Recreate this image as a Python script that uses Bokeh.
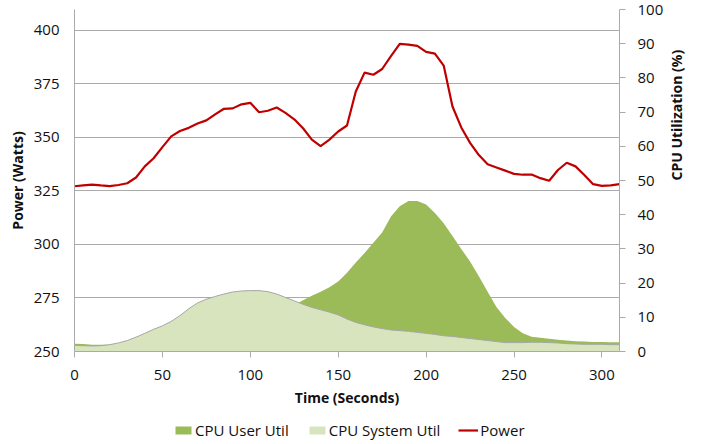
import math
from bokeh.plotting import figure
from bokeh.layouts import column
from bokeh.models import (Range1d, LinearAxis, FixedTicker, Legend, LegendItem,
                          ColumnDataSource)
from bokeh.embed import file_html
from bokeh.resources import INLINE

# ---------------- data ----------------
time_s = [0, 5, 10, 15, 20, 25, 30, 35, 40, 45, 50, 55, 60, 65, 70, 75, 80, 85, 90, 95,
          100, 105, 110, 115, 120, 125, 130, 135, 140, 145, 150, 155, 160, 165, 170, 175,
          180, 185, 190, 195, 200, 205, 210, 215, 220, 225, 230, 235, 240, 245, 250, 255,
          260, 265, 270, 275, 280, 285, 290, 295, 300, 305, 310]

power_w = [327.2, 327.6, 328.0, 327.6, 327.3, 327.8, 328.6, 331.3, 336.5, 340.3,
           345.5, 350.5, 353.0, 354.5, 356.5, 358.0, 360.8, 363.4, 363.6, 365.5,
           366.2, 361.8, 362.5, 364.0, 361.5, 358.5, 354.3, 349.0, 346.0, 349.0,
           352.8, 355.6, 371.5, 380.3, 379.3, 382.0, 388.0, 393.7, 393.4, 392.8,
           390.0, 389.2, 383.6, 364.5, 354.7, 347.5, 341.8, 337.5, 336.0, 334.5,
           333.0, 332.6, 332.7, 331.0, 329.8, 334.8, 338.2, 336.5, 332.5, 328.2,
           327.4, 327.6, 328.2]

cpu_user = [2.3, 2.2, 2.0, 2.0, 2.0, 2.2, 2.5, 2.8, 3.2, 3.6,
            4.0, 4.5, 5.0, 5.5, 6.0, 6.5, 7.0, 7.5, 8.0, 8.5,
            9.0, 9.5, 10.0, 11.0, 12.0, 13.5, 15.0, 16.3, 17.5, 18.8,
            20.5, 23.0, 26.0, 28.8, 31.8, 34.8, 39.5, 42.5, 44.0, 44.0,
            43.0, 40.5, 37.5, 33.8, 30.0, 26.3, 22.0, 17.5, 13.0, 9.8,
            7.2, 5.3, 4.3, 4.0, 3.7, 3.4, 3.2, 3.0, 2.9, 2.8,
            2.8, 2.7, 2.7]

cpu_system = [1.8, 1.7, 1.6, 1.7, 2.0, 2.5, 3.2, 4.2, 5.3, 6.5,
              7.5, 8.8, 10.5, 12.5, 14.2, 15.3, 16.1, 16.8, 17.4, 17.7,
              17.8, 17.8, 17.5, 16.8, 15.8, 14.8, 13.8, 12.9, 12.2, 11.5,
              10.7, 9.5, 8.5, 7.8, 7.2, 6.7, 6.3, 6.1, 5.9, 5.6,
              5.3, 5.0, 4.6, 4.4, 4.1, 3.8, 3.5, 3.2, 2.9, 2.6,
              2.6, 2.6, 2.7, 2.7, 2.6, 2.5, 2.3, 2.2, 2.1, 2.1,
              2.1, 2.0, 2.0]

series_names = ["CPU User Util", "CPU System Util", "Power"]
power_ticks = [250, 275, 300, 325, 350, 375, 400]
cpu_ticks = [0, 10, 20, 30, 40, 50, 60, 70, 80, 90, 100]
time_ticks = [0, 50, 100, 150, 200, 250, 300]

# ---------------- styling ----------------
FONT = "Open Sans"
GRID = "#aaaaaa"
TXT = "#111111"
C_USER = "#9BBB59"
C_SYS = "#D7E4BD"
C_POW = "#C00000"

src = ColumnDataSource(dict(t=time_s, p=power_w, u=cpu_user, s=cpu_system,
                            z=[0] * len(time_s)))

p = figure(width=701, height=415, output_backend="svg", toolbar_location=None,
           x_range=Range1d(0, 310), y_range=Range1d(250, 409.8),
           min_border_left=74, min_border_right=82, min_border_top=9,
           min_border_bottom=64)
p.extra_y_ranges = {"cpu": Range1d(0, 100)}
p.outline_line_color = None
p.background_fill_color = "white"
p.border_fill_color = "white"

# areas (user behind, system in front)
p.varea(x="t", y1="z", y2="u", source=src, y_range_name="cpu", fill_color=C_USER)
p.varea(x="t", y1="z", y2="s", source=src, y_range_name="cpu", fill_color=C_SYS)
p.line(x="t", y="s", source=src, y_range_name="cpu", line_color="#a6a6a6",
       line_width=1)
p.line(x="t", y="p", source=src, line_color=C_POW, line_width=2.2)

# grid
p.xgrid.grid_line_color = None
p.ygrid.ticker = FixedTicker(ticks=power_ticks)
p.ygrid.grid_line_color = GRID
p.ygrid.grid_line_width = 1

def style_axis(ax):
    ax.axis_line_color = GRID
    ax.axis_line_width = 1
    ax.major_tick_line_color = GRID
    ax.minor_tick_line_color = None
    ax.major_label_text_font = FONT
    ax.major_label_text_font_size = "15px"
    ax.major_label_text_color = TXT
    ax.axis_label_text_font = FONT
    ax.axis_label_text_font_size = "14px"
    ax.axis_label_text_font_style = "bold"
    ax.axis_label_text_color = TXT

# x axis
xa = p.xaxis[0]
style_axis(xa)
xa.ticker = FixedTicker(ticks=time_ticks)
xa.major_tick_out = 6
xa.major_tick_in = 0
xa.major_label_standoff = 12
xa.axis_label = "Time (Seconds)"
xa.axis_label_standoff = 5

# left axis
ya = p.yaxis[0]
style_axis(ya)
ya.ticker = FixedTicker(ticks=power_ticks)
ya.major_tick_out = 0
ya.major_tick_in = 0
ya.major_label_standoff = 15
ya.axis_label = "Power (Watts)"
ya.axis_label_standoff = 4

# right axis
ra = LinearAxis(y_range_name="cpu")
style_axis(ra)
ra.ticker = FixedTicker(ticks=cpu_ticks)
ra.major_tick_out = 6
ra.major_tick_in = 0
ra.major_label_standoff = 12
ra.axis_label = "CPU Utilization (%)"
ra.axis_label_standoff = 10
ra.axis_label_orientation = math.pi / 2
p.add_layout(ra, "right")

# ---------------- legend strip (same series, drawn out of view) ----------------
lg = figure(width=701, height=29, output_backend="svg", toolbar_location=None,
            x_range=Range1d(-20, -10), y_range=Range1d(0, 1),
            x_axis_location=None, y_axis_location=None,
            min_border=0, min_border_left=0, min_border_right=0,
            min_border_top=0, min_border_bottom=0)
lg.outline_line_color = None
lg.grid.grid_line_color = None
lg.background_fill_color = "white"
lg.border_fill_color = "white"
l_user = lg.varea(x="t", y1="z", y2="u", source=src, fill_color=C_USER)
l_sys = lg.varea(x="t", y1="z", y2="s", source=src, fill_color=C_SYS,
                 )
l_pow = lg.line(x="t", y="p", source=src, line_color=C_POW, line_width=2.2)

legend = Legend(items=[LegendItem(label=series_names[0], renderers=[l_user]),
                       LegendItem(label=series_names[1], renderers=[l_sys]),
                       LegendItem(label=series_names[2], renderers=[l_pow])],
                orientation="horizontal", location=(99, 4),
                glyph_width=20, glyph_height=10, label_standoff=2, spacing=18,
                padding=0, margin=0, label_height=16,
                label_text_font=FONT, label_text_font_size="15px",
                label_text_color=TXT, border_line_color=None,
                background_fill_alpha=0)
lg.add_layout(legend)

layout = column(p, lg, spacing=0)
open("out.html", "w").write(file_html(layout, INLINE))
